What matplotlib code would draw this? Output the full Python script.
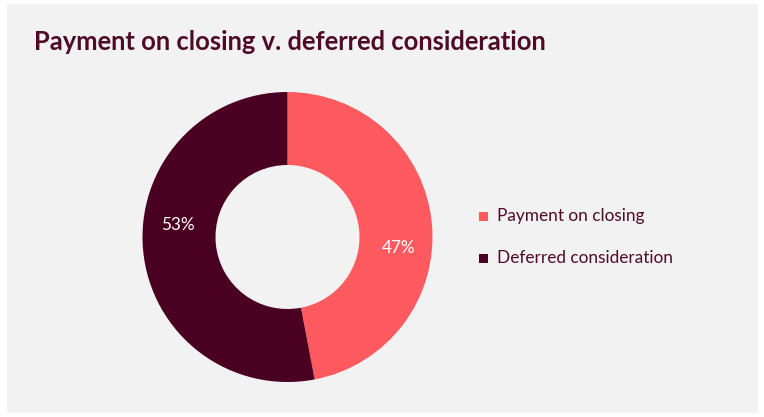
import matplotlib.pyplot as plt
from matplotlib.patches import Rectangle

labels = ["Payment on closing", "Deferred consideration"]
shares = [47, 53]
colors = ["#ff5a5f", "#4a0020"]

W, H = 764, 417
fig = plt.figure(figsize=(W / 100, H / 100), dpi=100, facecolor="white")

# light grey card behind everything
fig.patches.append(Rectangle((7 / W, 4 / H), 751 / W, 409 / H,
                             transform=fig.transFigure, facecolor="#f2f2f2",
                             edgecolor="none", zorder=-5))

fig.text(34 / W, 1 - 42 / H, "Payment on closing v. deferred consideration",
         fontsize=18.4, fontweight="bold", color="#4f0b26", family="Lato",
         va="center", ha="left")

# donut
cx, cy, size = 287.5, 237, 300
ax = fig.add_axes([(cx - size / 2) / W, 1 - (cy + size / 2) / H, size / W, size / H])
ax.set_facecolor("none")
wedges, texts, autotexts = ax.pie(
    shares, colors=colors, startangle=90, counterclock=False, radius=145,
    wedgeprops=dict(width=73, edgecolor="none"),
    autopct=lambda p: f"{p:.0f}%", pctdistance=0.77,
    textprops=dict(color="white", fontsize=12.3, family="Lato"))
# percentage labels sit a little off the wedge mid-angle
autotexts[0].set_position((111, -11))
autotexts[1].set_position((-109.5, 11.5))
ax.set_xlim(-150, 150)
ax.set_ylim(-150, 150)
ax.set_aspect("equal")
ax.axis("off")

# legend
for i, (lab, col) in enumerate(zip(labels, colors)):
    y = 1 - (216 + 42 * i) / H
    fig.patches.append(Rectangle((479 / W, y - 4.5 / H), 9 / W, 9 / H,
                                 transform=fig.transFigure, facecolor=col,
                                 edgecolor="none"))
    fig.text(497 / W, y, lab, fontsize=12.4, color="#4f0b26", family="Lato",
             va="center", ha="left")

fig.savefig("out.png", dpi=100, facecolor="white")
